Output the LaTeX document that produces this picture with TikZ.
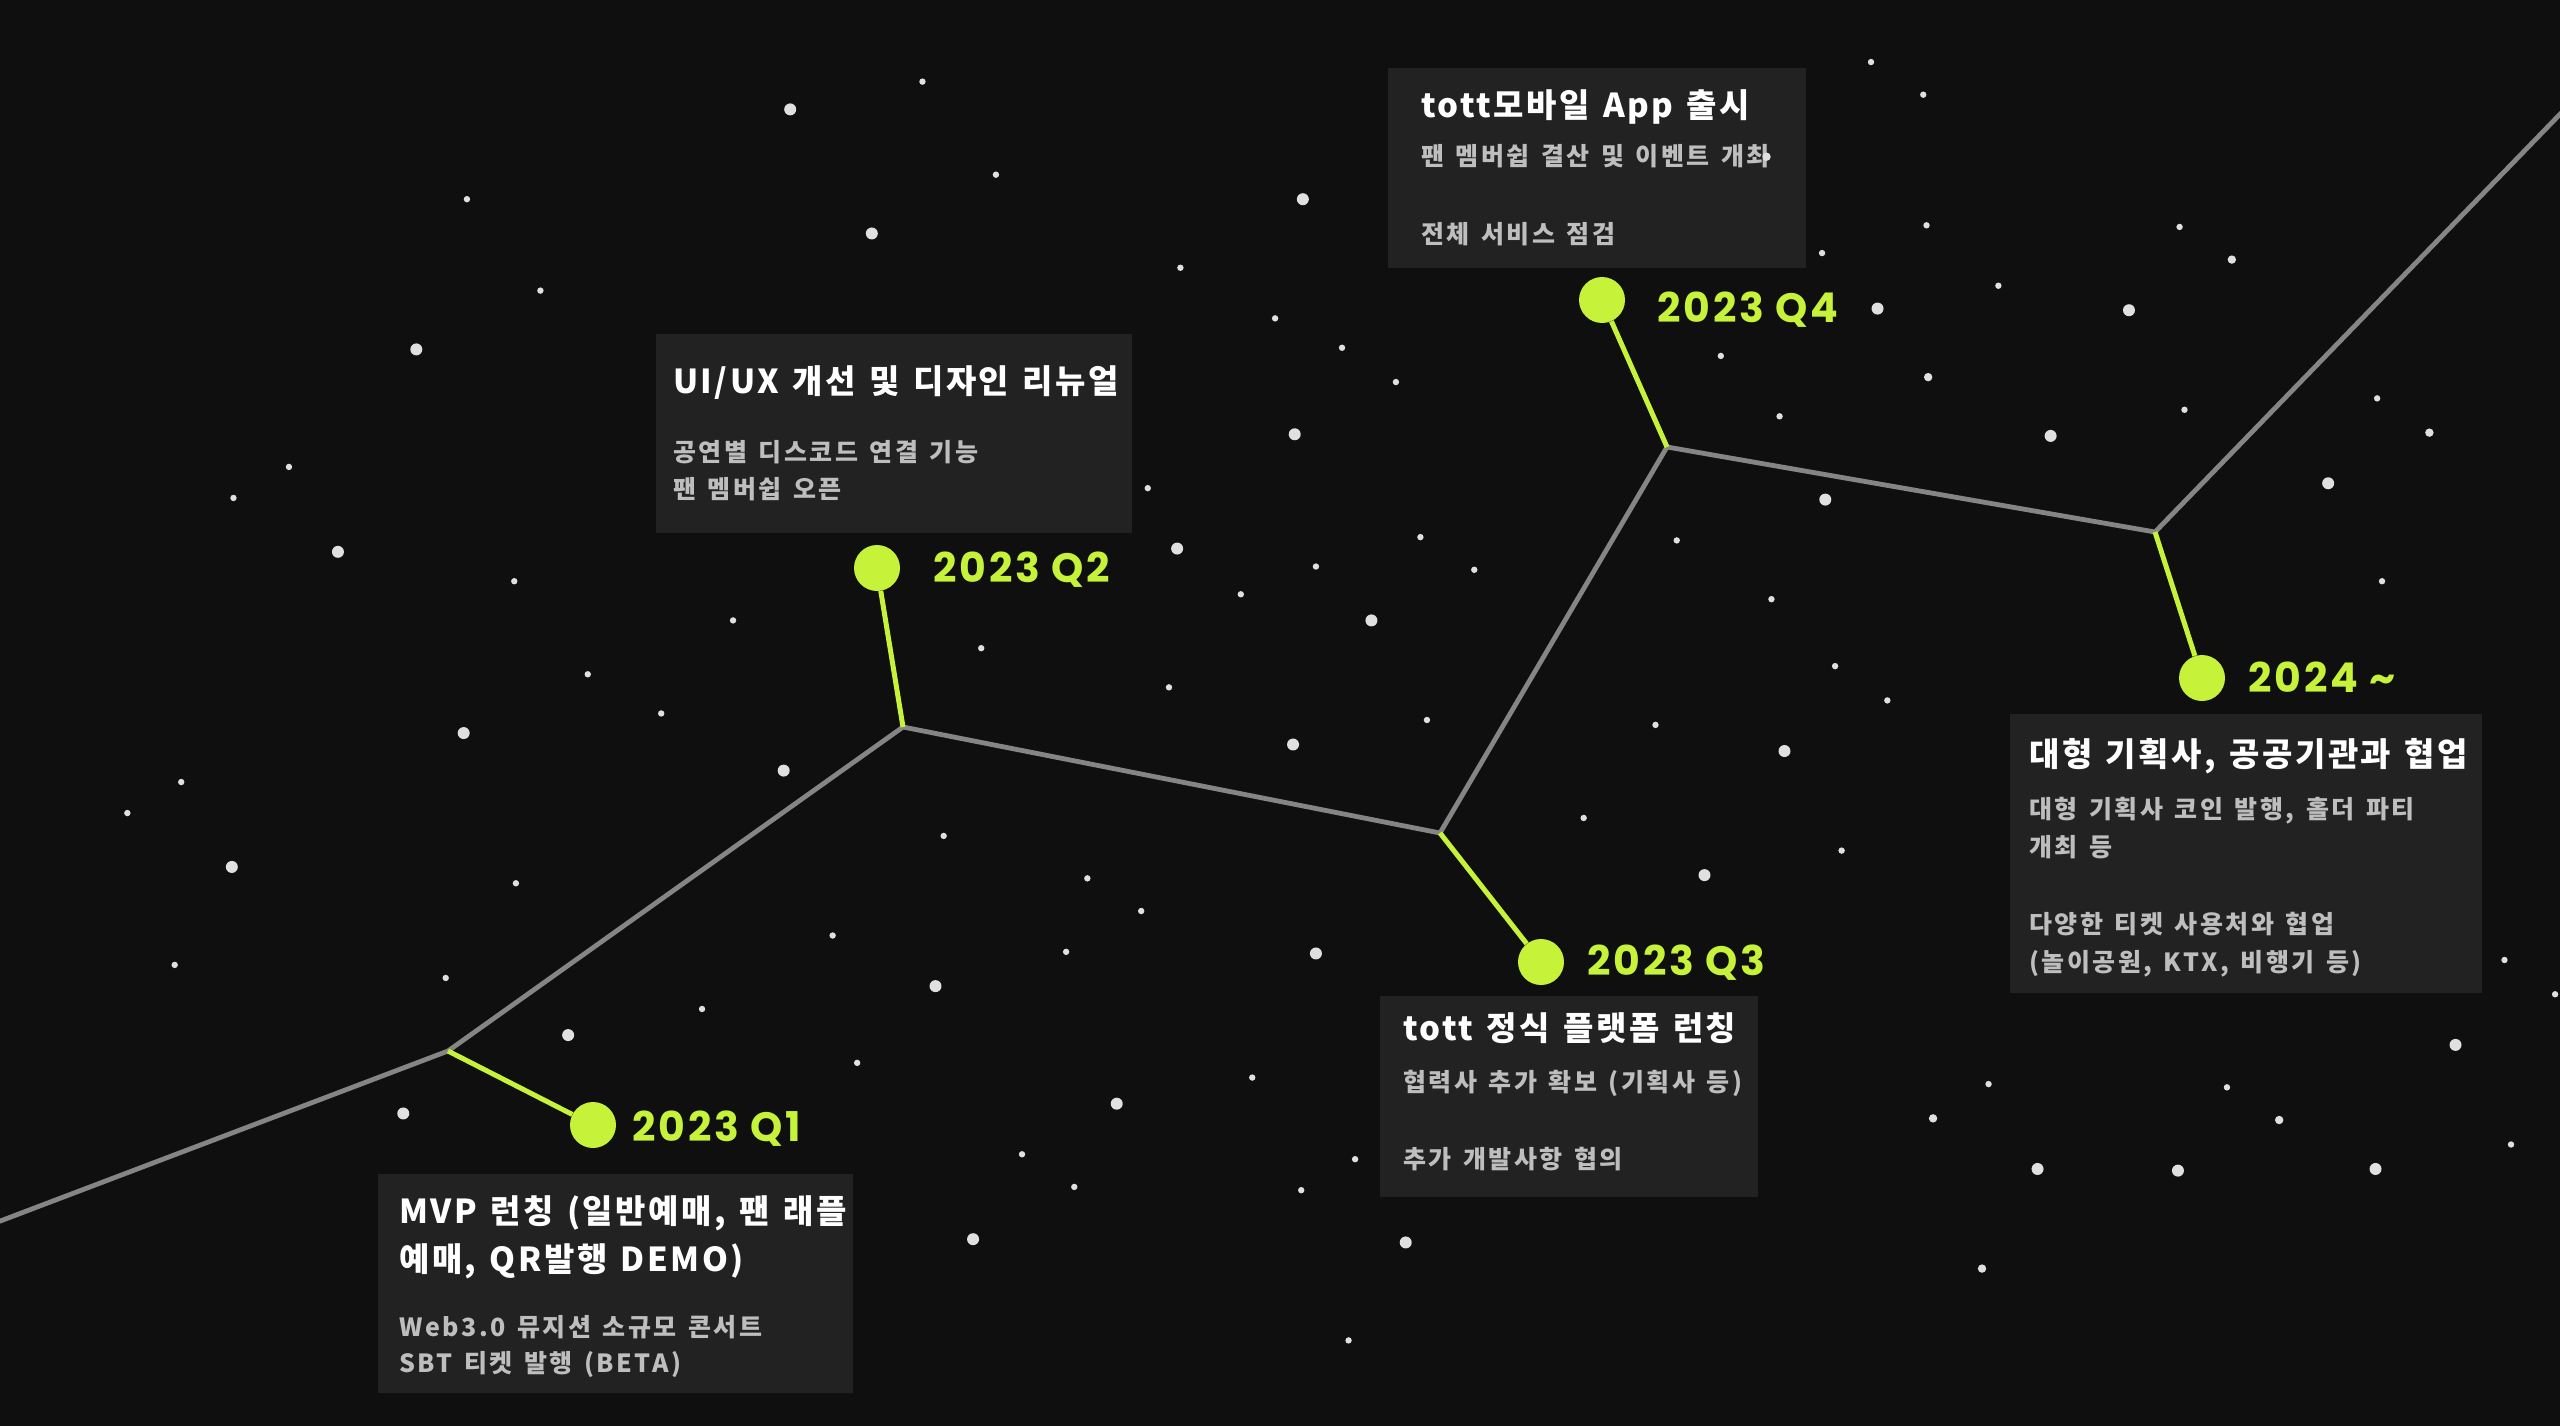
\documentclass[tikz,border=0pt]{standalone}
\usepackage{fontspec}
\setmainfont{Noto Sans CJK KR}
\newfontfamily\ttlfont{Noto Sans CJK KR}[LetterSpace=7.5,WordSpace=1.35]
\newfontfamily\bdyfont{Noto Sans CJK KR}[LetterSpace=10,WordSpace=1.4]
\newfontfamily\yearfont{Poppins}[LetterSpace=7]
\definecolor{bgc}{HTML}{0F0F0F}
\definecolor{boxc}{HTML}{222222}
\definecolor{linec}{HTML}{858585}
\definecolor{lime}{HTML}{C6F23A}
\definecolor{bodyc}{HTML}{BEBEBE}
\definecolor{starc}{HTML}{E0E0E0}
\begin{document}
\begin{tikzpicture}[x=1pt,y=-1pt,
  panel/.style={fill=boxc, draw=none, anchor=north west, inner sep=0pt, outer sep=0pt},
  ttl/.style={anchor=base west, inner sep=0pt, text=white, font=\ttlfont\fontsize{33}{33}\selectfont\bfseries},
  bdy/.style={anchor=base west, inner sep=0pt, text=bodyc, font=\bdyfont\fontsize{25}{25}\selectfont\bfseries},
  yr/.style={anchor=base west, inner sep=0pt, text=lime, font=\yearfont\fontsize{41}{41}\selectfont\bfseries},
  dotn/.style={circle, fill=lime, minimum size=46pt, inner sep=0pt},
  trunk/.style={draw=linec, line width=4.8pt, line join=round},
  stub/.style={draw=lime, line width=5pt}]
\fill[bgc] (0,0) rectangle (2560,1426);
\useasboundingbox (0,0) rectangle (2560,1426);
% trunk
\coordinate (s0) at (-5,1223);
\coordinate (j1) at (448,1051);
\coordinate (j2) at (903,727);
\coordinate (j3) at (1440,833);
\coordinate (j4) at (1667,447);
\coordinate (j5) at (2155,532);
\coordinate (s6) at (2566,108);
\draw[trunk] (s0) -- (j1) -- (j2) -- (j3) -- (j4) -- (j5) -- (s6);
% dots
\node[dotn] (d1) at (593,1125) {};
\node[dotn] (d2) at (877,568) {};
\node[dotn] (d3) at (1541,962) {};
\node[dotn] (d4) at (1602,300) {};
\node[dotn] (d5) at (2202,678) {};
\draw[stub] (j1) -- (d1);
\draw[stub] (j2) -- (d2);
\draw[stub] (j3) -- (d3);
\draw[stub] (j4) -- (d4);
\draw[stub] (j5) -- (d5);
% year labels
\node[yr] (y1) at (632,1141) {2023 Q1};
\node[yr] (y2) at (933,582) {2023 Q2};
\node[yr] (y3) at (1587,975) {2023 Q3};
\node[yr] (y4) at (1657,322) {2023 Q4};
\node[yr] (y5) at (2248,692) {2024 \textasciitilde};
% boxes
\node[panel, minimum width=418pt, minimum height=200pt] (b4) at (1388,68) {};
\node[panel, minimum width=476pt, minimum height=199pt] (b2) at (656,334) {};
\node[panel, minimum width=475pt, minimum height=219pt] (b1) at (378,1174) {};
\node[panel, minimum width=378pt, minimum height=201pt] (b3) at (1380,996) {};
\node[panel, minimum width=472pt, minimum height=279pt] (b5) at (2010,714) {};
% texts Q4
\node[ttl] (t4) at (1421,118) {tott모바일 App 출시};
\node[bdy] (t4a) at (1421,166) {팬 멤버쉽 결산 및 이벤트 개최};
\node[bdy] (t4b) at (1421,243) {전체 서비스 점검};
% Q2
\node[ttl] (t2) at (673,393) {UI/UX 개선 및 디자인 리뉴얼};
\node[bdy] (t2a) at (673,461) {공연별 디스코드 연결 기능};
\node[bdy] (t2b) at (673,498) {팬 멤버쉽 오픈};
% Q1
\node[ttl] (t1) at (399,1223) {MVP 런칭 (일반예매, 팬 래플};
\node[ttl] (t1b) at (399,1271) {예매, QR발행 DEMO)};
\node[bdy] (t1c) at (399,1336) {Web3.0 뮤지션 소규모 콘서트};
\node[bdy] (t1d) at (399,1372) {SBT 티켓 발행 (BETA)};
% Q3
\node[ttl] (t3) at (1403,1040) {tott 정식 플랫폼 런칭};
\node[bdy] (t3a) at (1403,1091) {협력사 추가 확보 (기획사 등)};
\node[bdy] (t3b) at (1403,1168) {추가 개발사항 협의};
% 2024
\node[ttl] (t5) at (2029,766) {대형 기획사, 공공기관과 협업};
\node[bdy] (t5a) at (2029,818) {대형 기획사 코인 발행, 홀더 파티};
\node[bdy] (t5b) at (2029,856) {개최 등};
\node[bdy] (t5c) at (2029,933) {다양한 티켓 사용처와 협업};
\node[bdy] (t5d) at (2029,971) {(놀이공원, KTX, 비행기 등)};
% stars
\begin{scope}[x=1.63265pt, y=-1.63265pt]
\foreach \sx/\sy in {484/67,798/122,534/143,255/214,207/338,284/449,142/531,348/634,247/682,480/472,573/604,684/676,596/759,806/584,861/761,792/456,840/380,721/336,793/266,1044/536,1093/460,1118/306,1150/189,1256/267,1304/190,1426/296,1248/716,1334/717,1455/716,1504/640}
  \fill[starc] (\sx,\sy) circle (6pt);
\foreach \sx/\sy in {1082/96,1367/159,1181/231,1488/265,1184/685,1396/686,1214/777,1118/306}
  \fill[starc] (\sx,\sy) circle (4.2pt);
\foreach \sx/\sy in {565/50,1146/38,1178/58,610/107,286/122,331/178,723/164,177/286,143/305,315/356,449/380,360/413,405/437,111/479,78/498,316/541,107/591,273/599,601/397,578/512,510/573,666/538,699/558,653/583,525/651,430/618,626/707,658/727,767/660,797/729,830/710,826/821,716/421,760/364,806/347,703/299,855/234,822/213,781/195,870/329,903/349,874/441,970/501,1014/444,1027/331,1085/367,1124/408,1156/429,1128/521,1090/255,1054/218,1116/155,1180/138,1224/175,1338/251,1335/139,1456/244,1459/356,1218/664,1364/666,1534/588,1538/701,1565/609}
  \fill[starc] (\sx,\sy) circle (3.2pt);
\end{scope}
\end{tikzpicture}
\end{document}
